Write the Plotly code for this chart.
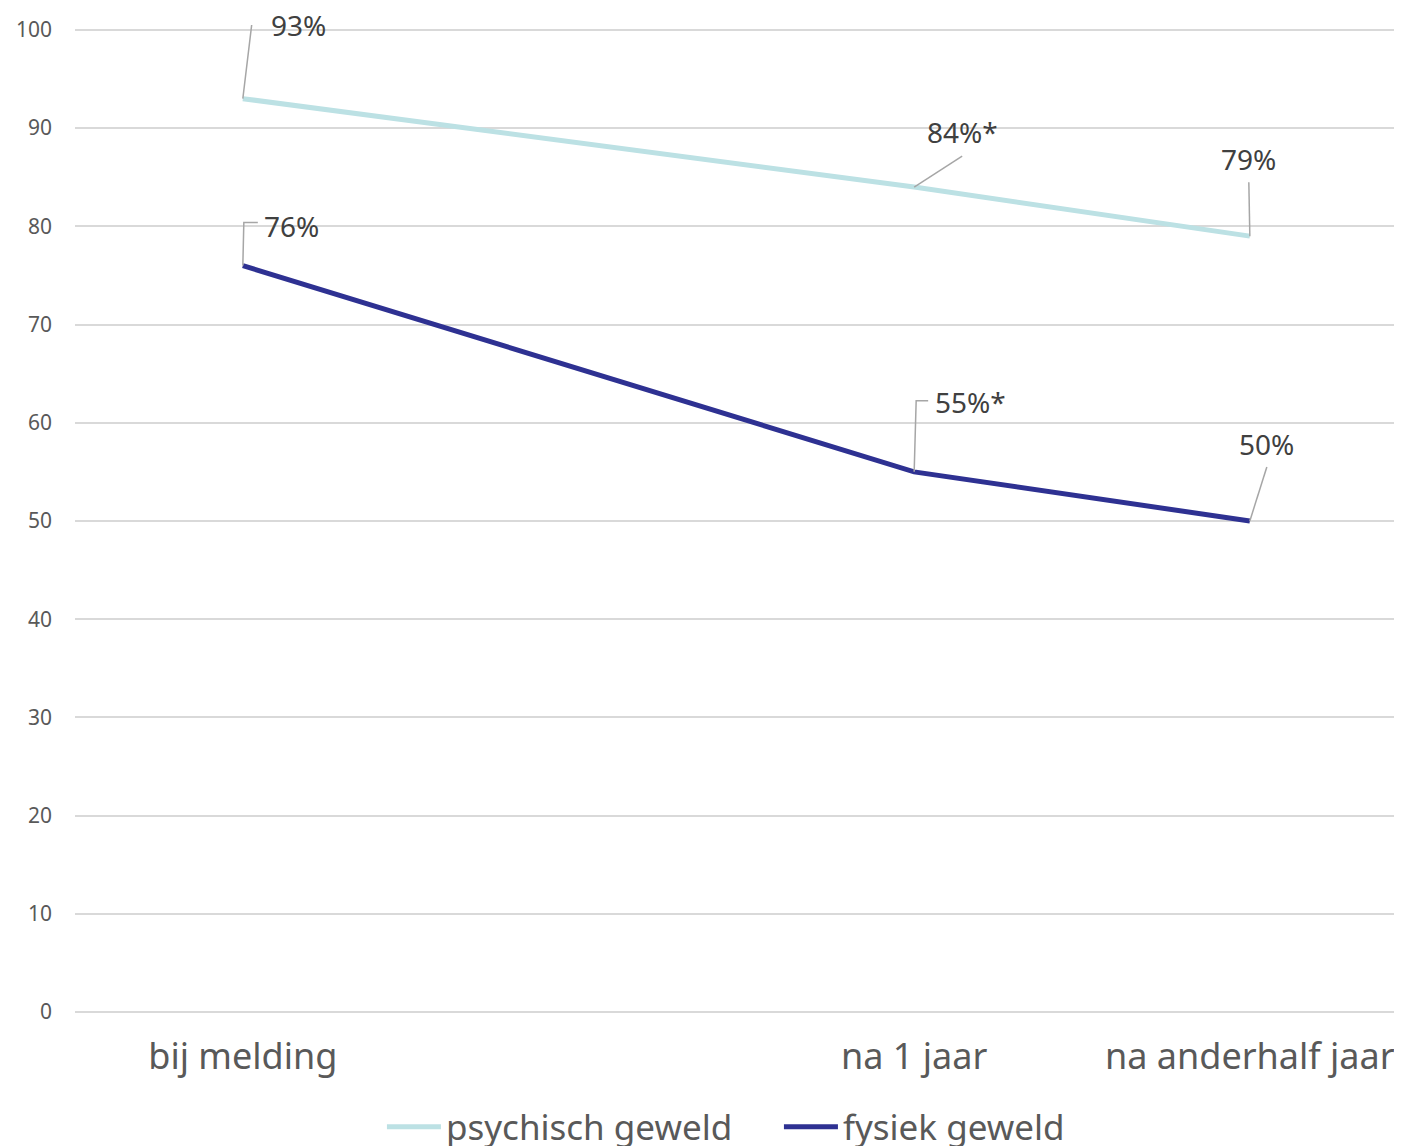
import plotly.graph_objects as go

# Data
x_months = [0, 12, 18]
x_labels = ["bij melding", "na 1 jaar", "na anderhalf jaar"]
series_names = ["psychisch geweld", "fysiek geweld"]
psychisch = [93, 84, 79]
fysiek = [76, 55, 50]
psychisch_sig = ["", "*", ""]
fysiek_sig = ["", "*", ""]
y_ticks = [0, 10, 20, 30, 40, 50, 60, 70, 80, 90, 100]

colors = ["#BCE1E4", "#2E3192"]
FONT = "Noto Sans"
LEADER = "#A6A6A6"

fig = go.Figure()
for name, vals, col in zip(series_names, [psychisch, fysiek], colors):
    fig.add_trace(go.Scatter(x=x_months, y=vals, mode="lines", name=name,
                             line=dict(color=col, width=5)))

# label styling: text offset (px, y up) and leader path (px offsets from point, y up)
label_style_p = [
    dict(text=(56, 74), path="M0,0 L9,75 L21,75"),
    dict(text=(48, 55), path="M0,0 L48,31"),
    dict(text=(-1, 77), path="M0,0 L-1,54"),
]
label_style_f = [
    dict(text=(49, 40), path="M0,0 L1,43 L15,43"),
    dict(text=(56, 70), path="M0,0 L2,71 L14,71"),
    dict(text=(17, 77), path="M0,0 L17,54"),
]
for vals, sig, styles in [(psychisch, psychisch_sig, label_style_p),
                          (fysiek, fysiek_sig, label_style_f)]:
    for xv, yv, s, st in zip(x_months, vals, sig, styles):
        fig.add_shape(type="path", xref="x", yref="y", xsizemode="pixel",
                      ysizemode="pixel", xanchor=xv, yanchor=yv, path=st["path"],
                      line=dict(color=LEADER, width=1.5))
        fig.add_annotation(x=xv, y=yv, text=f"{yv}%{s}", showarrow=False,
                           xshift=st["text"][0], yshift=st["text"][1],
                           xanchor="center", yanchor="middle",
                           font=dict(family=FONT, size=28, color="#404040"))

fig.update_layout(
    width=1394, height=1138,
    margin=dict(l=67, r=0, t=17, b=134, autoexpand=False),
    plot_bgcolor="white", paper_bgcolor="white",
    font=dict(family=FONT, color="#595959"),
    showlegend=True,
    legend=dict(orientation="h", x=0.2313, xanchor="left", y=-0.1165, yanchor="middle",
                font=dict(family=FONT, size=35, color="#595959"),
                itemwidth=54, entrywidth=328, tracegroupgap=0),
    xaxis=dict(range=[-3, 20.72], tickvals=x_months, ticktext=x_labels,
               showgrid=False, zeroline=False, showline=False, ticks="",
               automargin=False,
               tickfont=dict(family=FONT, size=36, color="#595959"),
               ticklabelstandoff=20),
    yaxis=dict(range=[0, 100.5], tickvals=y_ticks, showgrid=True,
               gridcolor="#D9D9D9", gridwidth=2, zeroline=True,
               zerolinecolor="#D9D9D9", zerolinewidth=2, showline=False, ticks="",
               automargin=False,
               tickfont=dict(family=FONT, size=21, color="#595959"),
               ticklabelstandoff=22),
)

fig.write_html("out.html")
